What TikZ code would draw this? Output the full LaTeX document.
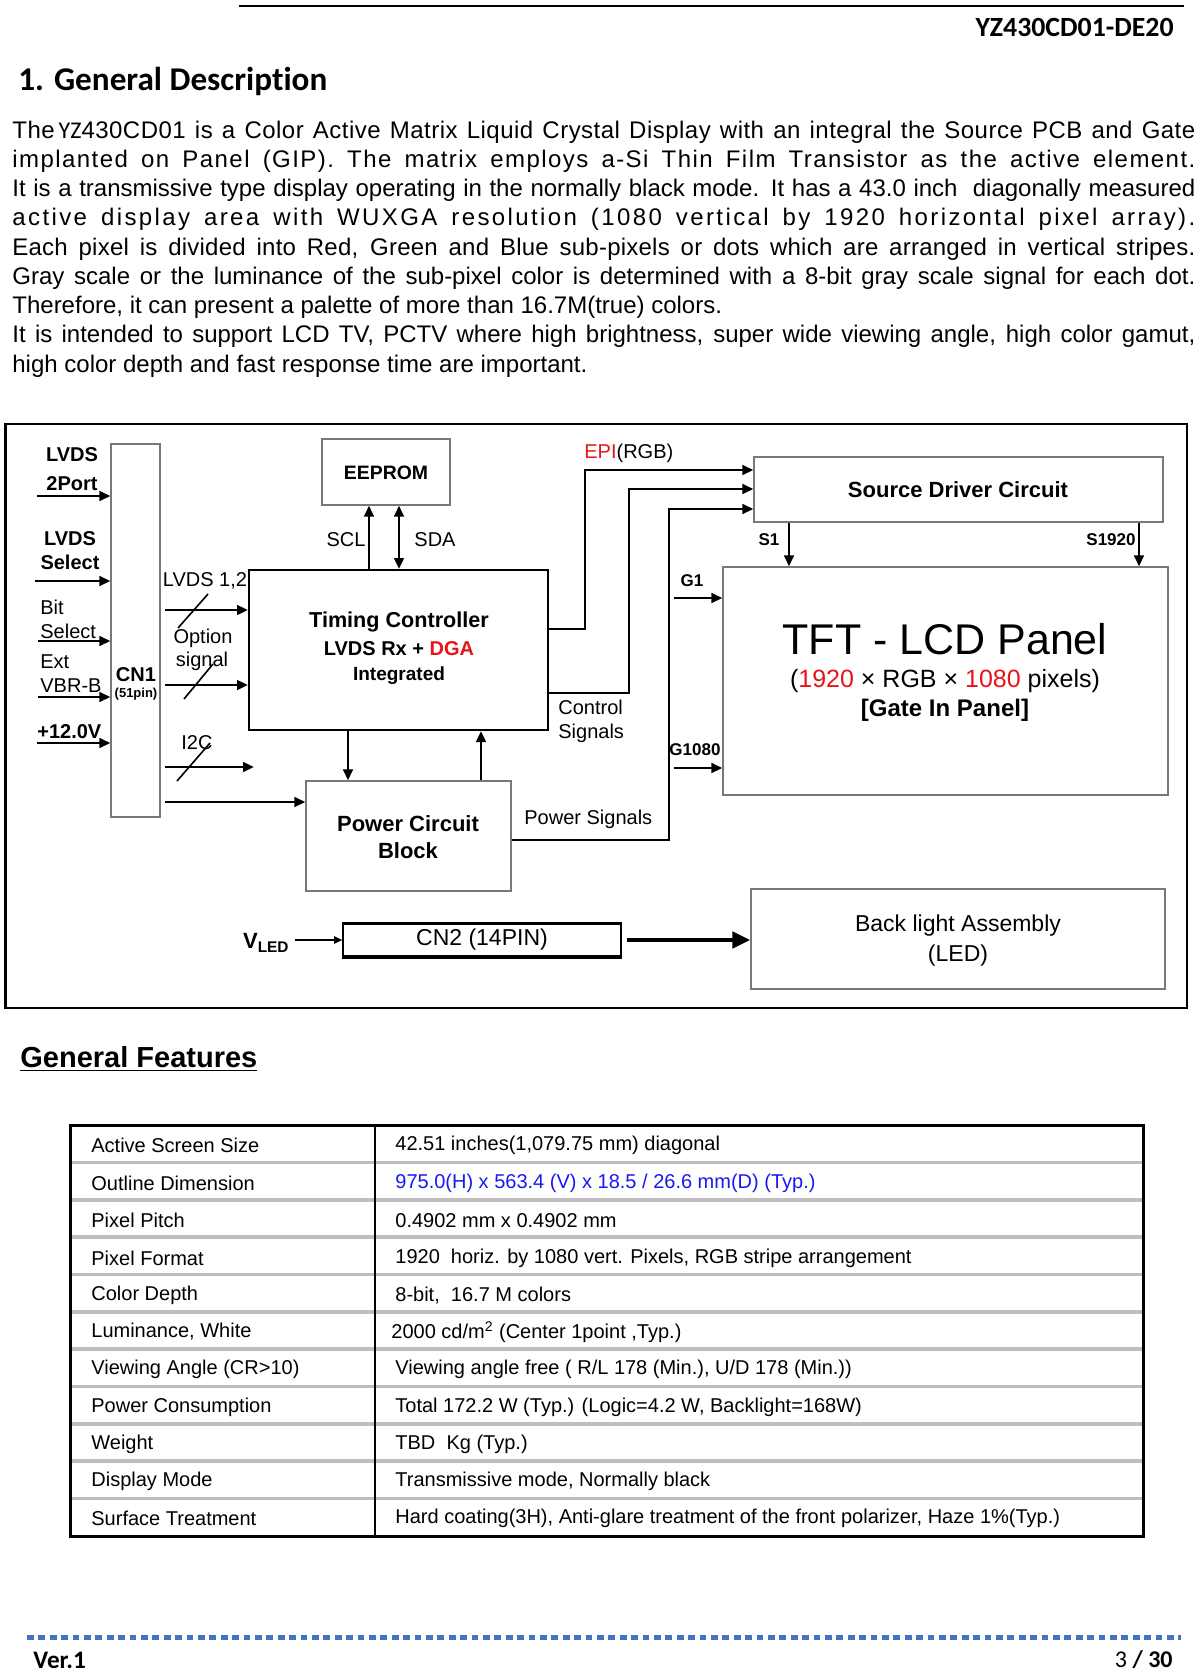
\documentclass[tikz,border=0pt]{standalone}
\usepackage{fontspec}
\setmainfont{Liberation Sans}
\newfontfamily\carl[Ligatures=CommonOff]{Carlito}
\usetikzlibrary{arrows.meta,fit,calc}
\definecolor{dblue}{RGB}{68,114,196}
\definecolor{tblue}{RGB}{25,25,240}
\definecolor{rowgray}{RGB}{190,190,190}
\definecolor{boxgray}{RGB}{120,120,120}
\definecolor{ered}{RGB}{230,20,25}
\newcommand\jline[1]{\makebox[591.5pt][s]{#1}}
\newcommand\lsp[1]{\addfontfeature{LetterSpace=#1}}
\begin{document}
\begin{tikzpicture}[x=0.5pt,y=-0.5pt,
 >={Triangle[length=5.5pt,width=4.8pt]},
 gbox/.style={draw=boxgray, line width=0.6pt, inner sep=0pt},
 kbox/.style={draw=black, line width=1pt, inner sep=0pt},
 conn/.style={line width=1.3pt},
 slash/.style={line width=0.8pt},
 lab/.style={inner sep=0pt, font=\fontsize{10}{12}\selectfont},
 blab/.style={inner sep=0pt, font=\bfseries\fontsize{10}{12}\selectfont},
 pline/.style={anchor=base west, inner sep=0pt, font=\fontsize{12}{14}\selectfont},
 tl/.style={anchor=west, inner sep=0pt, font=\fontsize{10}{12}\selectfont},
]
\useasboundingbox[fill=white] (0,0) rectangle (1200,1672);

% ---------- header ----------
\coordinate (hl1) at (239,6); \coordinate (hl2) at (1184,6);
\draw[line width=1.2pt] (hl1) -- (hl2);
\node[anchor=east, inner sep=0pt, font=\carl\bfseries\fontsize{13.9}{16}\selectfont] (docid) at (1174,27) {YZ430CD01-DE20};
\node[anchor=west, inner sep=0pt, font=\carl\bfseries\fontsize{16.6}{19}\selectfont] (h1) at (18,81) {1. General Description};

% ---------- paragraph ----------
\node[pline] (p1) at (12,138) {\jline{\lsp{2}The\,{\carl YZ}430CD01 is a Color Active Matrix Liquid Crystal Display with an integral the Source PCB and Gate}};
\node[pline] (p2) at (12,167.25) {\jline{\lsp{6}implanted on Panel (GIP). The matrix employs a-Si Thin Film Transistor as the active element.}};
\node[pline] (p3) at (12,196.5) {\jline{It is a transmissive type display operating in the normally black mode. It has a 43.0 inch\ \ diagonally measured}};
\node[pline] (p4) at (12,225.75) {\jline{\lsp{10}active display area with WUXGA resolution (1080 vertical by 1920 horizontal pixel array).}};
\node[pline] (p5) at (12,255) {\jline{\lsp{1}Each pixel is divided into Red, Green and Blue sub-pixels or dots which are arranged in vertical stripes.}};
\node[pline] (p6) at (12,284.25) {\jline{Gray scale or the luminance of the sub-pixel color is determined with a 8-bit gray scale signal for each dot.}};
\node[pline] (p7) at (12,313.5) {Therefore, it can present a palette of more than 16.7M(true) colors.};
\node[pline] (p8) at (12,342.75) {\jline{It is intended to support LCD TV, PCTV where high brightness, super wide viewing angle, high color gamut,}};
\node[pline] (p9) at (12,372) {high color depth and fast response time are important.};

% ---------- block diagram ----------
\node[draw, line width=1.2pt, inner sep=0pt, fit={(5.5,424) (1187,1008)}] (frame) {};

\node[gbox, fit={(111,444) (160,817)}] (cn1) {};
\node[kbox, fit={(249,570) (548,730)}] (tc) {};
\node[gbox, fit={(322,439) (450,505)}] (eep) {};
\node[gbox, fit={(306,781) (511,891)}] (pcb) {};
\node[gbox, fit={(754,457) (1163,522)}] (sdc) {};
\node[gbox, fit={(723,567) (1168,795)}] (panel) {};
\node[gbox, fit={(751,889) (1165,989)}] (bl) {};
\node[draw, line width=0.8pt, inner sep=0pt, fit={(343,924) (621,956)}] (cn2) {};
\draw[line width=1.7pt] (cn2.north west) -- (cn2.north east);
\draw[line width=1.7pt] (cn2.south west) -- (cn2.south east);

% left inputs
\node[blab] (lv1) at (72,455) {LVDS};
\node[blab] (lv2) at (72,484) {2Port};
\node[blab] (ls1) at (70,539) {LVDS};
\node[blab] (ls2) at (70,562) {Select};
\node[tl] (bs1) at (40,607) {Bit};
\node[tl] (bs2) at (40,631) {Select};
\node[tl] (ev1) at (40,662) {Ext};
\node[tl] (ev2) at (40,686) {VBR-B};
\node[anchor=west, inner sep=0pt, font=\bfseries\fontsize{10}{12}\selectfont] (v12) at (37,732) {+12.0V};

\coordinate (i1) at (37,496);
\coordinate (i2) at (35,581);
\coordinate (i3) at (38,641);
\coordinate (i4) at (38,697);
\coordinate (i5) at (37,743);
\foreach \c in {i1,i2,i3,i4,i5} \draw[conn,->] (\c) -- (\c -| cn1.west);

\node[blab] (cn1t) at (136,675) {CN1};
\node[inner sep=0pt, font=\bfseries\fontsize{6.5}{8}\selectfont] (cn1p) at (136,694) {(51pin)};

% CN1 -> TC / PCB
\coordinate (o1) at (165,610);
\coordinate (o2) at (165,685);
\coordinate (o3) at (165,767);
\coordinate (o3e) at (254,767);
\coordinate (o4) at (165,802);
\draw[conn,->] (o1) -- (o1 -| tc.west);
\draw[conn,->] (o2) -- (o2 -| tc.west);
\draw[conn,->] (o3) -- (o3e);
\draw[conn,->] (o4) -- (o4 -| pcb.west);
\coordinate (sa1) at (178,628); \coordinate (sa2) at (208,594);
\coordinate (sb1) at (184,699); \coordinate (sb2) at (213,664);
\coordinate (sc1) at (177,781); \coordinate (sc2) at (210,743);
\draw[slash] (sa1) -- (sa2);
\draw[slash] (sb1) -- (sb2);
\draw[slash] (sc1) -- (sc2);
\node[lab] (l12) at (205,581) {LVDS 1,2};
\node[lab] (opt1) at (203,638) {Option};
\node[lab] (opt2) at (202,661) {signal};
\node[lab] (i2c) at (197,743) {I2C};

% Timing controller text
\node[inner sep=0pt, font=\bfseries\fontsize{10.8}{12}\selectfont] (tc1) at (399,622) {Timing Controller};
\node[inner sep=0pt, font=\bfseries\fontsize{10}{12}\selectfont] (tc2) at (399,649) {LVDS Rx + {\color{ered}DGA}};
\node[inner sep=0pt, font=\bfseries\fontsize{9.5}{12}\selectfont] (tc3) at (399,676) {Integrated};

% EEPROM
\node[inner sep=0pt, font=\bfseries\fontsize{9.7}{12}\selectfont] (eept) at (386,473) {EEPROM};
\coordinate (xscl) at (369,0);
\coordinate (xsda) at (399,0);
\draw[conn,->] (tc.north -| xscl) -- (eep.south -| xscl);
\draw[conn,<->] (tc.north -| xsda) -- (eep.south -| xsda);
\node[lab] (scl) at (346,540) {SCL};
\node[lab] (sda) at (435,540) {SDA};

% Power circuit
\node[inner sep=0pt, align=center, font=\bfseries\fontsize{11}{13.5}\selectfont] (pcbt) at (408,837) {Power Circuit\\Block};
\coordinate (xd) at (348,0);
\coordinate (xu) at (481,0);
\draw[conn,->] (tc.south -| xd) -- (pcb.north -| xd);
\draw[conn,->] (pcb.north -| xu) -- (tc.south -| xu);

% TC -> source driver
\coordinate (e1) at (585,629); \coordinate (e2) at (585,470);
\coordinate (c1) at (629,693); \coordinate (c2) at (629,489);
\coordinate (q1) at (669,840); \coordinate (q2) at (669,509);
\draw[conn,->] (e1 -| tc.east) -- (e1) -- (e2) -- (e2 -| sdc.west);
\draw[conn,->] (c1 -| tc.east) -- (c1) -- (c2) -- (c2 -| sdc.west);
\draw[conn,->] (q1 -| pcb.east) -- (q1) -- (q2) -- (q2 -| sdc.west);
\node[anchor=west, lab] (epi) at (584,453) {{\color{ered}EPI}(RGB)};
\node[anchor=west, inner sep=0pt, align=left, font=\fontsize{10}{12}\selectfont] (ctl) at (558,721) {Control\\Signals};
\node[anchor=west, lab] (pws) at (524,819) {Power Signals};

% Source driver & panel
\node[inner sep=0pt, font=\bfseries\fontsize{11}{13}\selectfont] (sdct) at (958,490) {Source Driver Circuit};
\coordinate (s1x) at (789,0);
\coordinate (s2x) at (1139,0);
\draw[conn,->] (sdc.south -| s1x) -- (panel.north -| s1x);
\draw[conn,->] (sdc.south -| s2x) -- (panel.north -| s2x);
\node[inner sep=0pt, font=\bfseries\fontsize{8.5}{10}\selectfont] (s1l) at (769,540) {S1};
\node[inner sep=0pt, font=\bfseries\fontsize{8.5}{10}\selectfont] (s2l) at (1111,540) {S1920};
\coordinate (g1) at (674,598);
\coordinate (g2) at (674,768);
\draw[conn,->] (g1) -- (g1 -| panel.west);
\draw[conn,->] (g2) -- (g2 -| panel.west);
\node[inner sep=0pt, font=\bfseries\fontsize{8.5}{10}\selectfont] (g1l) at (692,581) {G1};
\node[inner sep=0pt, font=\bfseries\fontsize{8.5}{10}\selectfont] (g2l) at (695,750) {G1080};

\node[inner sep=0pt, font=\fontsize{21.5}{24}\selectfont] (tft) at (945,639) {TFT - LCD Panel};
\node[inner sep=0pt, font=\fontsize{12.5}{14}\selectfont] (res) at (945,681) {({\color{ered}1920} × RGB × {\color{ered}1080} pixels)};
\node[inner sep=0pt, font=\bfseries\fontsize{12}{14}\selectfont] (gip) at (945,710) {[Gate In Panel]};

% backlight
\node[anchor=east, inner sep=0pt, font=\bfseries\fontsize{11}{13}\selectfont] (vled) at (290,943) {V\textsubscript{LED}};
\coordinate (vl) at (295,940);
\draw[line width=0.8pt, -{Triangle[length=4pt,width=3.6pt]}] (vl) -- (vl -| cn2.west);
\node[inner sep=0pt, font=\fontsize{11.5}{13}\selectfont] (cn2t) at (482,940) {CN2 (14PIN)};
\coordinate (cb) at (627,940);
\draw[line width=2.2pt, -{Triangle[length=9pt,width=8pt]}] (cb) -- (cb -| bl.west);
\node[inner sep=0pt, align=center, font=\fontsize{11.5}{15}\selectfont] (blt) at (958,941) {Back light Assembly\\(LED)};

% ---------- General features ----------
\node[anchor=west, inner sep=0pt, font=\bfseries\fontsize{14.5}{17}\selectfont] (gf) at (20,1059) {\underline{General Features}};

\foreach \k in {1,...,10} {
  \draw[rowgray, line width=1.8pt] (71,{1125+37.36*\k}) -- (1142,{1125+37.36*\k});
}
\node[draw, line width=1.5pt, inner sep=0pt, fit={(70,1125) (1143,1536)}] (tab) {};
\coordinate (cd) at (375,0);
\draw[line width=1.4pt] (tab.north -| cd) -- (tab.south -| cd);

\node[tl] (r1a) at (91,1145) {Active Screen Size};
\node[tl] (r1b) at (395,1145) {42.51 inches(1,079.75 mm) diagonal};
\node[tl] (r2a) at (91,1183) {Outline Dimension};
\node[tl, text=tblue] (r2b) at (395,1183) {975.0(H) x 563.4 (V) x 18.5 / 26.6 mm(D) (Typ.)};
\node[tl] (r3a) at (91,1220.5) {Pixel Pitch};
\node[tl] (r3b) at (395,1220.5) {0.4902 mm x 0.4902 mm};
\node[tl] (r4a) at (91,1258) {Pixel Format};
\node[tl] (r4b) at (395,1258) {1920\ \ horiz. by 1080 vert. Pixels, RGB stripe arrangement};
\node[tl] (r5a) at (91,1295.5) {Color Depth};
\node[tl] (r5b) at (395,1295.5) {8-bit,\ \ 16.7 M colors};
\node[tl] (r6a) at (91,1332) {Luminance, White};
\node[tl] (r6b) at (391,1332) {2000 cd/m\textsuperscript{2} (Center 1point ,Typ.)};
\node[tl] (r7a) at (91,1369.5) {Viewing Angle (CR>10)};
\node[tl] (r7b) at (395,1369.5) {Viewing angle free ( R/L 178 (Min.), U/D 178 (Min.))};
\node[tl] (r8a) at (91,1407) {Power Consumption};
\node[tl] (r8b) at (395,1407) {Total 172.2 W (Typ.) (Logic=4.2 W, Backlight=168W)};
\node[tl] (r9a) at (91,1444.5) {Weight};
\node[tl] (r9b) at (395,1444.5) {TBD\ \ Kg (Typ.)};
\node[tl] (r10a) at (91,1481) {Display Mode};
\node[tl] (r10b) at (395,1481) {Transmissive mode, Normally black};
\node[tl] (r11a) at (91,1518) {Surface Treatment};
\node[tl] (r11b) at (395,1518) {Hard coating(3H), Anti-glare treatment of the front polarizer, Haze 1\%(Typ.)};

% ---------- footer ----------
\coordinate (f1) at (27,1637); \coordinate (f2) at (1181,1637);
\draw[dblue, line width=2.5pt, dash pattern=on 3.4pt off 2.3pt] (f1) -- (f2);
\node[anchor=west, inner sep=0pt, font=\carl\bfseries\fontsize{12.6}{14}\selectfont] (ver) at (33,1660) {Ver.1};
\node[anchor=east, inner sep=0pt, font=\carl\fontsize{12}{14}\selectfont] (pg) at (1173,1660) {3 \textbf{/ 30}};
\end{tikzpicture}
\end{document}
